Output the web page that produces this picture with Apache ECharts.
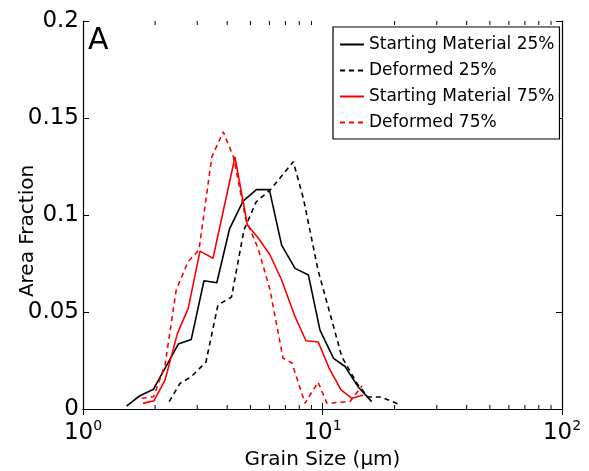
<!DOCTYPE html>
<html>
<head>
<meta charset="utf-8">
<script src="https://cdn.jsdelivr.net/npm/echarts@6/dist/echarts.min.js"></script>
<style>
  html, body { margin: 0; padding: 0; background: #fff; }
  #chart { width: 589px; height: 471px; }
</style>
</head>
<body>
<div id="chart"></div>
<script>
// grain size (µm) and area fraction
const startX25 = [1.52, 1.72, 1.97, 2.50, 2.83, 3.20, 3.62, 4.09, 4.66, 5.30, 6.00, 6.75, 7.68, 8.73, 9.76, 11.12, 12.42, 14.07, 16.05];
const startY25 = [0.0015, 0.0067, 0.0102, 0.0335, 0.0358, 0.0661, 0.0651, 0.0928, 0.1072, 0.1131, 0.1131, 0.0845, 0.0725, 0.0691, 0.0407, 0.0261, 0.0219, 0.0115, 0.0038];

const defX25 = [2.29, 2.54, 2.83, 3.26, 3.66, 4.17, 4.70, 5.28, 6.10, 7.55, 8.32, 9.58, 10.93, 12.03, 13.93, 15.48, 17.55, 20.66];
const defY25 = [0.0038, 0.0132, 0.0166, 0.0242, 0.0536, 0.0577, 0.0923, 0.1067, 0.1134, 0.1275, 0.1086, 0.0716, 0.0459, 0.0270, 0.0132, 0.0062, 0.0062, 0.0026];

const startX75 = [1.78, 1.98, 2.20, 2.48, 2.75, 3.08, 3.49, 4.31, 4.86, 5.43, 6.04, 6.75, 7.68, 8.53, 9.60, 10.65, 11.95, 13.28, 14.80];
const startY75 = [0.0029, 0.0043, 0.0149, 0.0390, 0.0519, 0.0814, 0.0777, 0.1299, 0.0948, 0.0876, 0.0794, 0.0665, 0.0476, 0.0352, 0.0345, 0.0211, 0.0098, 0.0055, 0.0072];

const defX75 = [1.76, 1.97, 2.20, 2.45, 2.74, 3.05, 3.45, 3.85, 4.25, 4.79, 5.38, 6.04, 6.84, 7.46, 8.45, 9.58, 10.44, 13.03, 14.62];
const defY75 = [0.0055, 0.0063, 0.0227, 0.0613, 0.0758, 0.0820, 0.1299, 0.1429, 0.1299, 0.0974, 0.0830, 0.0613, 0.0263, 0.0237, 0.0029, 0.0139, 0.0029, 0.0039, 0.0119];

const minorTicks = [2, 3, 4, 5, 6, 7, 8, 9, 20, 30, 40, 50, 60, 70, 80, 90];

const font = 'DejaVu Sans';

const pairs = (xs, ys) => xs.map((x, i) => [x, ys[i]]);

const lineSeries = (name, xs, ys, color, dashed) => ({
  name,
  type: 'line',
  data: pairs(xs, ys),
  symbol: 'none',
  animation: false,
  lineStyle: { color, width: 1.6, type: dashed ? [5, 4] : 'solid' },
  itemStyle: { color }
});

const xBase = {
  type: 'log',
  logBase: 10,
  min: 1,
  max: 100,
  axisLine: { lineStyle: { color: '#000', width: 1.2 } },
  axisTick: { inside: true, length: 6, lineStyle: { color: '#000' } },
  splitLine: { show: false }
};

const yBase = {
  type: 'value',
  min: 0,
  max: 0.2,
  interval: 0.05,
  axisLine: { show: true, lineStyle: { color: '#000', width: 1.2 } },
  axisTick: { show: true, inside: true, length: 6, lineStyle: { color: '#000' } },
  splitLine: { show: false }
};

const chart = echarts.init(document.getElementById('chart'));

chart.setOption({
  backgroundColor: '#fff',
  animation: false,
  grid: { left: 83, right: 27, top: 21, bottom: 62, containLabel: false, outerBoundsMode: 'none' },
  xAxis: [
    {
      ...xBase,
      position: 'bottom',
      name: 'Grain Size (μm)',
      nameLocation: 'middle',
      nameGap: 37,
      nameTextStyle: { color: '#000', fontSize: 20, fontFamily: font },
      axisLabel: {
        margin: 10,
        color: '#000',
        formatter: (v) => '{b|10}{s|' + Math.round(Math.log10(v)) + '}',
        rich: {
          b: { fontSize: 23, fontFamily: font, color: '#000' },
          s: { fontSize: 14, fontFamily: font, color: '#000', padding: [0, 0, 14, 0] }
        }
      }
    },
    {
      ...xBase,
      position: 'top',
      axisLabel: { show: false }
    }
  ],
  yAxis: [
    {
      ...yBase,
      position: 'left',
      axisLabel: { margin: 4, color: '#000', fontSize: 23, fontFamily: font }
    },
    {
      ...yBase,
      position: 'right',
      axisLabel: { show: false }
    }
  ],
  legend: {
    orient: 'vertical',
    left: 333,
    top: 27,
    padding: [9, 5, 8, 6],
    itemWidth: 24,
    itemHeight: 10,
    itemGap: 9,
    backgroundColor: '#fff',
    borderColor: '#000',
    borderWidth: 1.2,
    borderRadius: 0,
    itemStyle: { opacity: 0, borderWidth: 0 },
    textStyle: { color: '#000', fontSize: 17, fontFamily: font },
    data: ['Starting Material 25%', 'Deformed 25%', 'Starting Material 75%', 'Deformed 75%']
  },
  graphic: [
    {
      type: 'text',
      left: 88,
      top: 26,
      style: { text: 'A', fontSize: 30, fontFamily: font, fill: '#000' }
    },
    {
      type: 'text',
      x: 28,
      y: 231,
      rotation: Math.PI / 2,
      style: {
        text: 'Area Fraction',
        fontSize: 20,
        fontFamily: font,
        fill: '#000',
        align: 'center',
        verticalAlign: 'middle'
      }
    }
  ],
  series: [
    lineSeries('Starting Material 25%', startX25, startY25, '#000', false),
    lineSeries('Deformed 25%', defX25, defY25, '#000', true),
    lineSeries('Starting Material 75%', startX75, startY75, '#ff0000', false),
    lineSeries('Deformed 75%', defX75, defY75, '#ff0000', true),
    {
      type: 'custom',
      silent: true,
      animation: false,
      data: minorTicks.map((x) => [x, 0]),
      renderItem: (params, api) => {
        const b = api.coord([api.value(0), 0]);
        const t = api.coord([api.value(0), 0.2]);
        const style = { stroke: '#000', lineWidth: 1 };
        return {
          type: 'group',
          children: [
            { type: 'line', shape: { x1: b[0], y1: b[1], x2: b[0], y2: b[1] - 4 }, style },
            { type: 'line', shape: { x1: t[0], y1: t[1], x2: t[0], y2: t[1] + 4 }, style }
          ]
        };
      }
    }
  ]
});
</script>
</body>
</html>
